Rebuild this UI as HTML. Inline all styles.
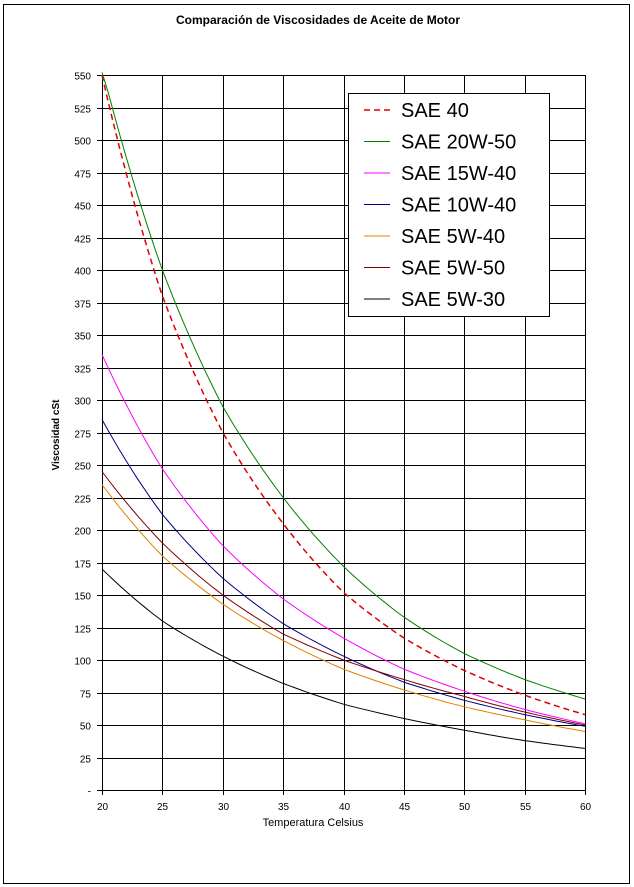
<!DOCTYPE html>
<html><head><meta charset="utf-8"><style>
body{margin:0;background:#fff;}
svg{display:block;font-family:"Liberation Sans",Arial,sans-serif;}
</style></head><body>
<svg id="s" width="634" height="887" xmlns="http://www.w3.org/2000/svg">
<rect x="3.5" y="4.5" width="626" height="879" fill="#fff" stroke="#000" stroke-width="1"/>
<text x="318" y="24" font-size="12" font-weight="bold" text-anchor="middle">Comparación de Viscosidades de Aceite de Motor</text>
<g id="grid" stroke="#000" stroke-width="1"></g>
<g id="lab" font-size="10" fill="#000"></g>
<text x="313" y="826" font-size="11" text-anchor="middle">Temperatura Celsius</text>
<text transform="translate(59,435) rotate(-90)" font-size="10" font-weight="bold" text-anchor="middle">Viscosidad cSt</text>
<g id="curves" fill="none" stroke-width="1"></g>
<rect x="348.5" y="93.5" width="201" height="223" fill="#fff" stroke="#000"/>
<g id="leg" font-size="20"></g>
</svg>
<script>
var NS="http://www.w3.org/2000/svg";
var X0=102,X1=585,Y0=790,YT=75;
function px(t){return X0+(t-20)*(X1-X0)/40;}
function py(v){return Y0-v*(Y0-YT)/550;}
function el(p,tag,a,txt){var e=document.createElementNS(NS,tag);for(var k in a)e.setAttribute(k,a[k]);if(txt!=null)e.textContent=txt;document.getElementById(p).appendChild(e);return e;}
for(var t=20;t<=60;t+=5){var x=Math.round(px(t))+.5;el("grid","line",{x1:x,y1:YT,x2:x,y2:Y0+5});el("lab","text",{x:x,y:Y0+20,"text-anchor":"middle"},t);}
for(var v=0;v<=550;v+=25){var y=Math.round(py(v))+.5;el("grid","line",{x1:X0-5,y1:y,x2:X1,y2:y});el("lab","text",{x:X0-11,y:y+4,"text-anchor":"end"},v==0?"-":v);}
var S=[
["SAE 40","#e00000",[550,380,275,205,152,117,92,73,58],"6,4",1.5],
["SAE 20W-50","#008000",[555,400,295,225,172,133,105,85,70]],
["SAE 15W-40","#ff00ff",[335,247,188,147,117,93,76,62,51]],
["SAE 10W-40","#000080",[285,212,163,128,103,83,69,58,49]],
["SAE 5W-40","#e08000",[235,180,143,115,93,77,64,54,45]],
["SAE 5W-50","#800000",[245,190,150,120,100,85,72,60,50]],
["SAE 5W-30","#000000",[170,130,103,82,66,55,46,38,32]]];
S.forEach(function(s,i){
 var d=[],v=s[2];
 for(var k=0;k<8;k++){for(var j=0;j<10;j++){var f=j/10;var val=Math.exp(Math.log(v[k])*(1-f)+Math.log(v[k+1])*f);d.push(px(20+5*k+5*f).toFixed(1)+","+py(Math.min(val,552)).toFixed(1));}}
 d.push(px(60)+","+py(v[8]));
 var a={points:d.join(" "),stroke:s[1]};if(s[3]){a["stroke-dasharray"]=s[3];a["stroke-width"]=s[4];}
 el("curves","polyline",a);
 var y=110+i*31.5;
 var la={x1:364,y1:y,x2:390,y2:y,stroke:s[1]};if(s[3]){la["stroke-dasharray"]="6,4";la["stroke-width"]=1.5;}
 el("leg","line",la);
 el("leg","text",{x:401,y:y+7},s[0]);
});
</script>
</body></html>
